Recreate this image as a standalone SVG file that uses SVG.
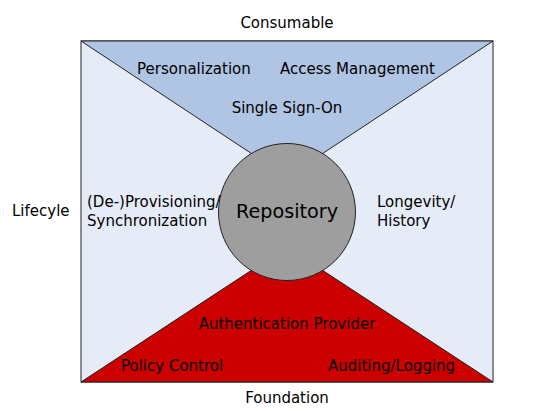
<svg xmlns="http://www.w3.org/2000/svg" width="536" height="411" viewBox="0 0 536 411">
<style>
text{font-family:"DejaVu Sans",sans-serif;font-size:15px;fill:#000}
.shape{stroke:#222;stroke-width:1}
.big{font-size:19.2px}
.m{text-anchor:middle}
</style>
<rect width="536" height="411" fill="#fff"/>
<g id="side-regions">
<rect class="shape" x="81" y="41" width="412" height="341" fill="#e6ecf7"/>
</g>
<g id="consumable-region">
<polygon class="shape" points="81,41 493,41 287,177" fill="#b0c4e4"/>
<text x="137" y="74">Personalization</text>
<text x="280" y="74">Access Management</text>
<text class="m" x="287" y="113">Single Sign-On</text>
</g>
<g id="foundation-region">
<polygon class="shape" points="81,382 493,382 287,247" fill="#cc0000"/>
<text class="m" x="287" y="329">Authentication Provider</text>
<text x="121" y="371">Policy Control</text>
<text x="328" y="371">Auditing/Logging</text>
</g>
<g id="repository">
<circle class="shape" cx="287" cy="212" r="68.5" fill="#9e9e9e"/>
<text class="m big" x="287" y="218">Repository</text>
</g>
<g id="lifecycle-left">
<text x="87" y="207">(De-)Provisioning/</text>
<text x="87" y="226">Synchronization</text>
</g>
<g id="lifecycle-right">
<text x="377" y="207">Longevity/</text>
<text x="377" y="226">History</text>
</g>
<g id="labels">
<text class="m" x="287" y="28">Consumable</text>
<text x="12" y="216">Lifecyle</text>
<text class="m" x="287" y="403">Foundation</text>
</g>
<g id="connectors"></g>
</svg>
